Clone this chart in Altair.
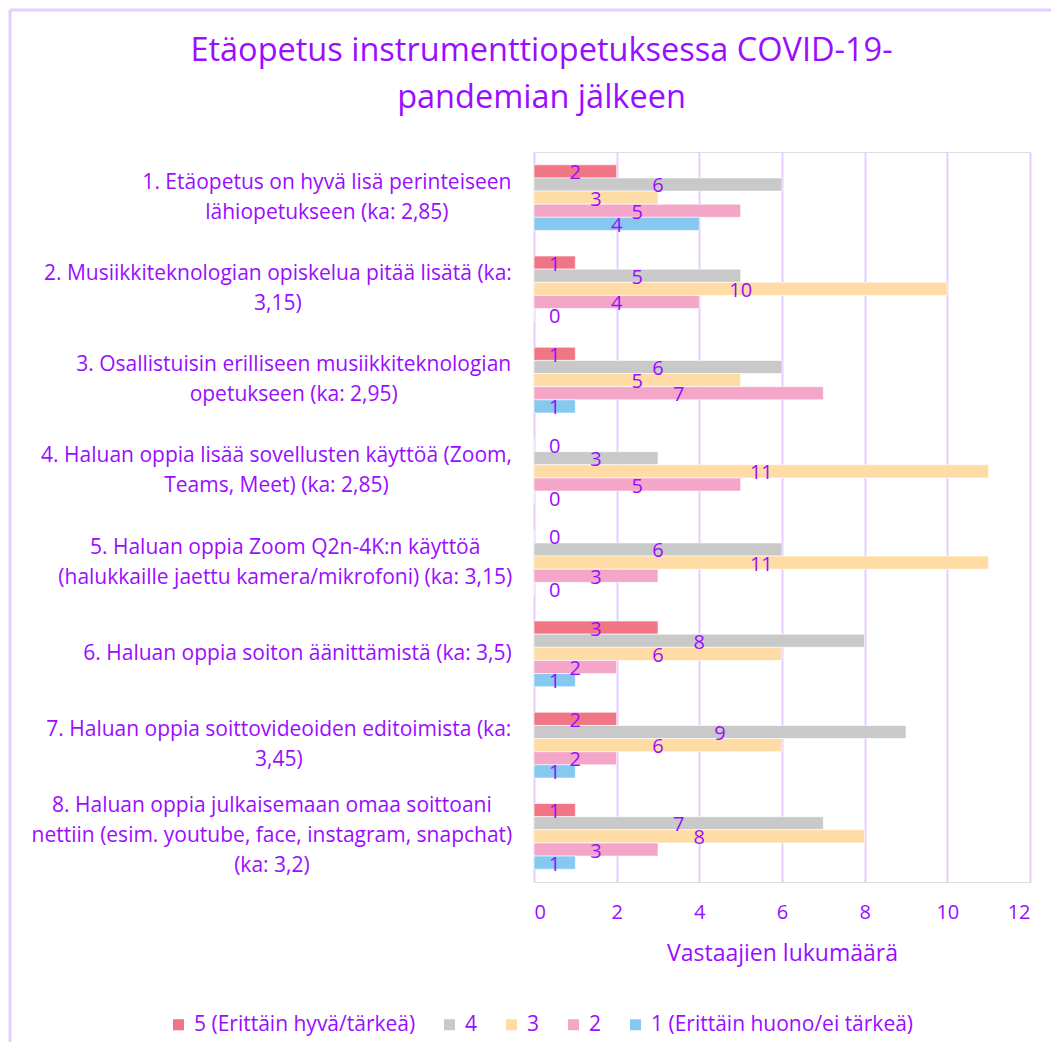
import json
import altair as alt
import pandas as pd

questions = [
    "1. Etäopetus on hyvä lisä perinteiseen|lähiopetukseen (ka: 2,85)",
    "2. Musiikkiteknologian opiskelua pitää lisätä (ka:|3,15)",
    "3. Osallistuisin erilliseen musiikkiteknologian|opetukseen (ka: 2,95)",
    "4. Haluan oppia lisää sovellusten käyttöä (Zoom,|Teams, Meet) (ka: 2,85)",
    "5. Haluan oppia Zoom Q2n-4K:n käyttöä|(halukkaille jaettu kamera/mikrofoni) (ka: 3,15)",
    "6. Haluan oppia soiton äänittämistä (ka: 3,5)",
    "7. Haluan oppia soittovideoiden editoimista (ka:|3,45)",
    "8. Haluan oppia julkaisemaan omaa soittoani|nettiin (esim. youtube, face, instagram, snapchat)|(ka: 3,2)",
]
series = ["5 (Erittäin hyvä/tärkeä)", "4", "3", "2", "1 (Erittäin huono/ei tärkeä)"]
colors = ["#F07585", "#C9C9C9", "#FFDCA5", "#F4A6C8", "#85C8F0"]

s5 = [2, 1, 1, 0, 0, 3, 2, 1]
s4 = [6, 5, 6, 3, 6, 8, 9, 7]
s3 = [3, 10, 5, 11, 11, 6, 6, 8]
s2 = [5, 4, 7, 5, 3, 2, 2, 3]
s1 = [4, 0, 1, 0, 0, 1, 1, 1]
values = [s5, s4, s3, s2, s1]

x_ticks = [0, 2, 4, 6, 8, 10, 12]

rows = []
for si, s in enumerate(series):
    for qi, q in enumerate(questions):
        rows.append({"q": q, "s": s, "v": values[si][qi]})
df = pd.DataFrame(rows)

PURPLE = "#9A0DFF"
LIGHT = "#E6CCFF"
FONT = "Open Sans"
LABEL_SIZE = 21

# approximate Open Sans advance widths (units per em = 2048) to centre each
# multi-line label block and right-align the block to the axis
ADV = {" ": 532, ".": 545, ",": 492, ":": 545, "-": 659, "/": 752, "(": 578, ")": 578,
       "a": 1139, "b": 1255, "c": 975, "d": 1255, "e": 1149, "f": 694, "g": 1122,
       "h": 1257, "i": 518, "j": 518, "k": 1075, "l": 518, "m": 1905, "n": 1257,
       "o": 1237, "p": 1255, "q": 1255, "r": 836, "s": 977, "t": 723, "u": 1257,
       "v": 1026, "w": 1593, "x": 1073, "y": 1028, "z": 975, "ä": 1139, "ö": 1237,
       "E": 1143, "M": 1767, "O": 1599, "T": 1112, "Z": 1112, "Q": 1599, "K": 1208,
       "H": 1511, "C": 1298, "V": 1208, "I": 621, "D": 1481}


def text_w(t, size):
    return sum(ADV.get(ch, 1171) for ch in t) / 2048 * size


GAP = 23
pad_expr = "0"
for q in reversed(questions):
    w = max(text_w(line, LABEL_SIZE) for line in q.split("|"))
    pad_expr = f"datum.label == {json.dumps(q)} ? {GAP + w / 2:.1f} : ({pad_expr})"

y_enc = alt.Y(
    "q:N", sort=questions,
    scale=alt.Scale(paddingInner=0.28, paddingOuter=0.14),
    axis=alt.Axis(
        title=None, domain=False, ticks=False,
        labelExpr="split(datum.label, '|')",
        labelAlign="center", labelBaseline="middle",
        labelOffset=alt.ExprRef("-15 * (length(split(datum.label, '|')) - 1)"),
        labelPadding=alt.ExprRef(pad_expr), labelLimit=700,
        labelFontSize=LABEL_SIZE, labelLineHeight=30,
        labelColor=PURPLE, labelFont=FONT,
    ),
)
yoff = alt.YOffset("s:N", sort=series, scale=alt.Scale(paddingInner=0, paddingOuter=0))

base = alt.Chart(df)

bars = base.mark_bar(stroke="white", strokeWidth=0.6).encode(
    y=y_enc,
    yOffset=yoff,
    x=alt.X(
        "v:Q", scale=alt.Scale(domain=[0, 12], nice=False),
        axis=alt.Axis(
            values=x_ticks, grid=True, gridColor=LIGHT, gridWidth=2,
            domain=False, ticks=False, labelPadding=20,
            labelFontSize=20, labelColor=PURPLE, labelFont=FONT,
            title="Vastaajien lukumäärä", titleFontSize=23,
            titleFontWeight="normal", titleColor=PURPLE, titleFont=FONT,
            titlePadding=20,
        ),
    ),
    color=alt.Color(
        "s:N", sort=series,
        scale=alt.Scale(domain=series, range=colors),
        legend=alt.Legend(
            title=None, orient="none", legendX=-366, legendY=862,
            direction="horizontal", columns=5, columnPadding=23,
            symbolType="square", symbolSize=121, symbolStrokeWidth=0,
            labelFontSize=21, labelColor=PURPLE, labelFont=FONT,
            labelOffset=5, labelLimit=400,
        ),
    ),
)

labels = base.transform_calculate(mid="max(datum.v, 1) / 2").mark_text(
    fontSize=20, color=PURPLE, font=FONT, baseline="middle", align="center", dy=2
).encode(
    y=alt.Y("q:N", sort=questions),
    yOffset=yoff,
    x=alt.X("mid:Q"),
    text="v:Q",
)

border_top = alt.Chart(pd.DataFrame({"a": [0]})).mark_rule(
    color=LIGHT, strokeWidth=3
).encode(x=alt.value(-524), x2=alt.value(517), y=alt.value(-142))
border_left = alt.Chart(pd.DataFrame({"a": [0]})).mark_rule(
    color=LIGHT, strokeWidth=3
).encode(x=alt.value(-524), y=alt.value(-142), y2=alt.value(890))

chart = alt.layer(bars, labels, border_top, border_left).properties(
    width=496, height=730, padding=0,
    title=alt.Title(
        ["Etäopetus instrumenttiopetuksessa COVID-19-", "pandemian jälkeen"],
        fontSize=32.5, fontWeight="normal", color=PURPLE, font=FONT,
        anchor="middle", frame="bounds", lineHeight=47, offset=-106, dx=11,
    ),
).configure_view(stroke=None).configure(background="white")

chart.save("out.html", embed_options={"renderer": "svg", "actions": False})
